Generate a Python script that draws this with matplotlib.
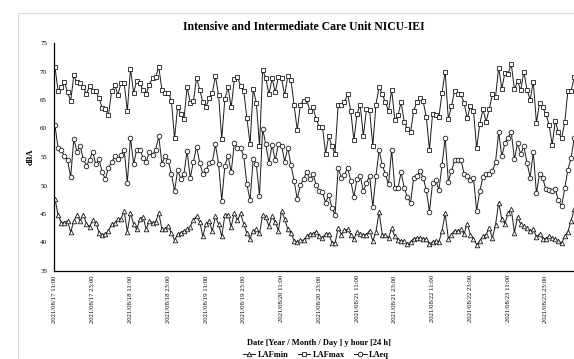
import matplotlib
matplotlib.use("Agg")
import matplotlib.pyplot as plt
from matplotlib.patches import Rectangle

plt.rcParams['font.family'] = ['Liberation Serif', 'DejaVu Serif']

# hourly values, starting 2021/08/17 11:00
LAFmax = [70.8, 66.6, 67.2, 68.2, 66.4, 64.8, 69.3, 68.1, 67.9, 67.3, 66.0, 67.5, 66.6, 66.5, 65.4, 63.6,
          63.4, 62.3, 66.5, 67.6, 65.9, 68.0, 67.9, 63.1, 70.5, 66.3,
          68.3, 67.9, 66.7, 66.1, 67.7, 68.8, 69.0, 70.8, 66.8, 66.3, 66.3, 64.9, 58.3, 63.8, 62.6, 61.6,
          67.3, 64.5, 64.8, 68.9, 66.8, 64.6, 63.8, 65.3, 66.2, 69.2, 65.8, 58.2, 65.2, 67.2,
          63.7, 68.6, 69.0, 67.5, 66.5, 61.8, 57.3, 66.9, 64.5, 56.9, 70.2, 68.9, 66.0, 68.8, 66.4, 69.0,
          68.8, 65.8, 69.2, 68.5, 64.1, 59.7, 64.2, 64.9, 65.1, 63.1, 63.8, 61.6, 60.3, 60.3, 55.6,
          58.7, 56.9, 55.6, 64.2, 64.2, 64.6, 66.1, 63.1, 57.9, 62.6, 64.1, 58.7, 63.4, 63.2, 56.9, 64.2,
          67.3, 66.0, 64.6, 63.1, 66.8, 61.5, 62.3, 64.6, 61.2, 59.9, 59.3, 63.1, 64.6,
          65.4, 64.8, 62.0, 56.3, 62.5, 62.4, 62.0, 66.2, 70.0, 61.6, 63.9, 66.6, 66.1, 66.0, 64.5, 61.8,
          63.9, 63.1, 56.5, 60.8, 63.4, 61.2, 63.4, 66.0, 65.5, 70.7, 67.0, 69.8, 69.6, 71.3, 66.9,
          68.3, 66.7, 70.0, 66.8, 65.0, 68.2, 61.0, 64.5, 63.7, 62.5, 60.7, 57.1, 61.3, 59.3, 58.3, 61.1,
          66.6, 66.5, 69.0]

LAeq = [60.6, 56.5, 56.2, 55.2, 54.5, 51.5, 58.2, 55.9, 57.0, 54.6, 53.5, 54.5, 55.9, 53.7, 54.6, 52.4,
        51.1, 53.1, 54.1, 55.1, 54.7, 55.3, 56.3, 50.5, 58.4, 53.8,
        56.3, 56.3, 54.9, 54.2, 55.8, 55.3, 56.3, 58.6, 53.8, 55.2, 54.3, 52.1, 49.0, 52.7, 51.2, 52.1,
        56.1, 51.3, 54.2, 56.8, 54.0, 52.0, 52.7, 53.9, 54.1, 57.2, 53.8, 47.3, 53.5, 55.2,
        52.3, 57.5, 56.5, 56.5, 55.2, 50.2, 47.4, 54.7, 53.7, 48.2, 60.0, 57.2, 54.0, 57.1, 54.4, 57.3,
        57.0, 54.2, 56.6, 53.6, 50.8, 47.6, 50.1, 51.1, 52.4, 51.1, 52.0, 50.1, 49.0, 48.9, 47.0,
        48.3, 46.1, 44.8, 53.1, 51.4, 51.9, 53.1, 50.8, 48.0, 51.2, 51.7, 49.0, 50.5, 51.7, 46.2, 51.7,
        56.2, 53.6, 52.0, 50.2, 56.3, 49.5, 49.5, 52.3, 49.6, 47.9, 47.0, 51.4, 51.7,
        52.5, 51.4, 49.2, 45.4, 50.5, 51.0, 49.2, 53.6, 58.4, 50.7, 52.5, 54.4, 54.5, 54.5, 52.1, 51.7,
        50.9, 51.3, 45.6, 49.0, 51.5, 52.1, 52.1, 52.5, 54.1, 59.3, 55.1, 57.5, 58.4, 59.4, 54.6,
        57.4, 55.5, 56.9, 54.0, 51.4, 55.9, 48.6, 52.1, 51.3, 49.3, 49.2, 49.0, 49.3, 47.4, 46.4, 49.5,
        52.8, 54.8, 58.3]

LAFmin = [47.7, 44.8, 43.5, 43.5, 43.8, 41.8, 43.8, 44.8, 43.8, 44.9, 43.3, 42.8, 43.9, 43.5, 41.7, 41.4,
          41.5, 42.0, 43.2, 43.4, 44.1, 44.2, 45.5, 41.9, 45.2, 43.2,
          42.3, 44.1, 44.5, 42.3, 43.8, 43.5, 43.6, 45.2, 42.3, 42.3, 42.9, 41.7, 40.4, 41.5, 41.7, 42.0,
          42.3, 42.8, 44.0, 44.6, 43.6, 41.1, 43.2, 43.8, 42.0, 44.6, 43.2, 41.1, 44.8, 44.9,
          42.8, 45.2, 43.9, 45.1, 43.2, 41.6, 40.7, 42.0, 42.3, 41.6, 44.8, 44.4, 42.9, 44.6, 43.6, 42.1,
          45.5, 44.1, 42.3, 41.7, 40.3, 40.1, 40.4, 40.4, 41.1, 41.5, 41.5, 41.9, 41.1, 40.8,
          41.5, 41.5, 40.0, 39.9, 42.5, 41.4, 42.2, 42.3, 41.4, 40.6, 41.9, 41.5, 41.4, 41.4, 42.1, 40.3,
          41.8, 45.4, 41.4, 41.3, 40.8, 42.5, 41.1, 40.4, 40.3, 40.3, 39.7, 40.1, 40.7, 40.8,
          40.8, 40.7, 40.6, 39.7, 40.1, 40.3, 40.1, 42.0, 45.1, 40.7, 41.4, 42.1, 42.0, 42.3, 41.5, 43.3,
          41.4, 40.7, 39.6, 40.3, 41.1, 41.4, 42.5, 40.8, 43.1, 47.0, 44.1, 43.3, 45.2, 45.9, 41.7,
          44.5, 43.2, 42.9, 42.5, 42.0, 42.3, 41.0, 41.5, 40.7, 40.7, 41.1, 40.8, 40.6, 40.3, 39.9, 41.1,
          41.9, 43.8, 45.8]

tick_labels = ["2021/08/17 11:00", "2021/08/17 23:00", "2021/08/18 11:00", "2021/08/18 23:00",
               "2021/08/19 11:00", "2021/08/19 23:00", "2021/08/20 11:00", "2021/08/20 23:00",
               "2021/08/21 11:00", "2021/08/21 23:00", "2021/08/22 11:00", "2021/08/22 23:00",
               "2021/08/23 11:00", "2021/08/23 23:00"]

W, H = 574, 359
fig = plt.figure(figsize=(W / 100, H / 100), dpi=100)
ax = fig.add_axes([54 / W, (H - 271) / H, (W - 54) / W, 228 / H])

# light grey chart-area border (runs off the right/bottom edge)
fig.patches.append(Rectangle((18 / W, -0.05), 1.5, (H - 13) / H + 0.05, transform=fig.transFigure,
                             fill=False, edgecolor='#d9d9d9', lw=0.8))

x = list(range(len(LAFmax)))
style = dict(color='#1a1a1a', lw=0.7, markersize=3.3, markerfacecolor='white',
             markeredgecolor='#1a1a1a', markeredgewidth=0.6)
ax.plot(x, LAFmin, marker='^', label='LAFmin', **style)
ax.plot(x, LAFmax, marker='s', label='LAFmax', **style)
ax.plot(x, LAeq, marker='o', label='LAeq', **style)

ax.set_ylim(35, 75)
ax.set_xlim(-0.3, (W - 54) / 3.147 - 0.3)
ax.set_yticks(range(35, 80, 5))
ax.set_xticks(range(0, 12 * len(tick_labels), 12))
ax.set_xticklabels(tick_labels, rotation=90, fontsize=4.9)
ax.tick_params(axis='y', labelsize=5, length=0, pad=5)
ax.tick_params(axis='x', length=0, pad=3)
for s in ['top', 'right']:
    ax.spines[s].set_visible(False)
ax.spines['left'].set_linewidth(0.9)
ax.spines['bottom'].set_linewidth(0.9)

ax.set_ylabel("dBA", fontsize=6, fontweight='bold', labelpad=4)
fig.text(304 / W, 1 - 27 / H, "Intensive and Intermediate Care Unit NICU-IEI",
         ha='center', va='center', fontsize=8.5, fontweight='bold')
fig.text(319 / W, 1 - 343 / H, "Date [Year / Month / Day ] y hour [24 h]",
         ha='center', va='center', fontsize=6, fontweight='bold')

fig.legend(loc='center', bbox_to_anchor=(316 / W, 1 - 355 / H), ncol=3, frameon=False,
           prop={'size': 6, 'weight': 'bold'}, handlelength=1.5, columnspacing=1.1,
           handletextpad=0.3, borderpad=0)

fig.savefig("out.png", dpi=100)
